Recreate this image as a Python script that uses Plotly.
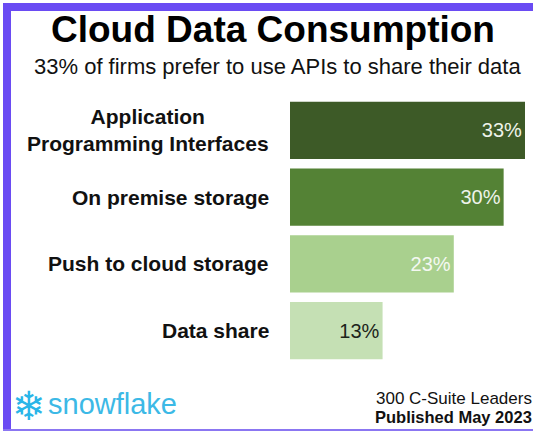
import plotly.graph_objects as go

categories = ["Application<br>Programming Interfaces", "On premise storage",
              "Push to cloud storage", "Data share"]
shares = [33, 30, 23, 13]
bar_colors = ["#3d5a27", "#548235", "#a9d08e", "#c5e0b4"]
text_colors = ["#eef3ea", "#eef3ea", "#f4f8f1", "#1c241a"]

W, H = 533, 431
L, R, T, B = 290, 8, 97, 67
PW, PH = W - L - R, H - T - B


def px(x):
    return (x - L) / PW


def py(y):
    return (H - B - y) / PH


FONT = "Arial, Liberation Sans, sans-serif"
PURPLE = "#6a4bf3"

fig = go.Figure(go.Bar(
    x=shares,
    y=categories,
    orientation="h",
    marker=dict(color=bar_colors, line=dict(width=0)),
    text=[f"{v}%" for v in shares],
    textposition="inside",
    insidetextanchor="end",
    textfont=dict(family=FONT, size=20, color=text_colors),
    hoverinfo="skip",
))

# category labels on the left
for cat in categories:
    fig.add_annotation(
        x=px(271), xref="paper", y=cat, yref="y",
        text=f"<b>{cat}</b>", showarrow=False,
        xanchor="right", align="center",
        font=dict(family=FONT, size=21, color="#111111"),
    )

fig.add_annotation(
    x=px(273), y=py(29), xref="paper", yref="paper",
    text="<b>Cloud Data Consumption</b>", showarrow=False,
    xanchor="center", yanchor="middle",
    font=dict(family=FONT, size=37, color="#000000"),
)
fig.add_annotation(
    x=px(277), y=py(67), xref="paper", yref="paper",
    text="33% of firms prefer to use APIs to share their data", showarrow=False,
    xanchor="center", yanchor="middle",
    font=dict(family=FONT, size=22, color="#111111"),
)

# footer
fig.add_annotation(
    x=px(534), y=py(398), xref="paper", yref="paper",
    text="300 C-Suite Leaders", showarrow=False,
    xanchor="right", yanchor="middle",
    font=dict(family=FONT, size=17, color="#111111"),
)
fig.add_annotation(
    x=px(534), y=py(417), xref="paper", yref="paper",
    text="<b>Published May 2023</b>", showarrow=False,
    xanchor="right", yanchor="middle",
    font=dict(family=FONT, size=16.5, color="#111111"),
)
fig.add_annotation(
    x=px(29), y=py(406), xref="paper", yref="paper",
    text="❄", showarrow=False,
    xanchor="center", yanchor="middle",
    font=dict(family="DejaVu Sans", size=40, color="#29b5e8"),
)
fig.add_annotation(
    x=px(46), y=py(404), xref="paper", yref="paper",
    text="snowflake", showarrow=False,
    xanchor="left", yanchor="middle",
    font=dict(family=FONT, size=29, color="#3cb9e6"),
)

# purple frame
fig.add_shape(type="rect", xref="paper", yref="paper",
              x0=px(3), x1=px(533), y0=py(11), y1=py(3),
              fillcolor=PURPLE, line=dict(width=0), layer="above")
fig.add_shape(type="rect", xref="paper", yref="paper",
              x0=px(3), x1=px(11), y0=py(431), y1=py(3),
              fillcolor=PURPLE, line=dict(width=0), layer="above")
fig.add_shape(type="rect", xref="paper", yref="paper",
              x0=px(3), x1=px(533), y0=py(431), y1=py(429),
              fillcolor="#8b76f2", line=dict(width=0), layer="above")

fig.update_layout(
    width=W, height=H,
    margin=dict(l=L, r=R, t=T, b=B),
    paper_bgcolor="white", plot_bgcolor="white",
    bargap=0.145,
    showlegend=False,
    xaxis=dict(range=[0, 33], visible=False, fixedrange=True),
    yaxis=dict(categoryorder="array", categoryarray=categories,
               autorange="reversed", visible=False, fixedrange=True),
    uniformtext=dict(mode=False),
)

fig.write_html("out.html", config={"displayModeBar": False},
               post_script="document.body.style.margin='0';document.body.style.overflow='hidden';")
